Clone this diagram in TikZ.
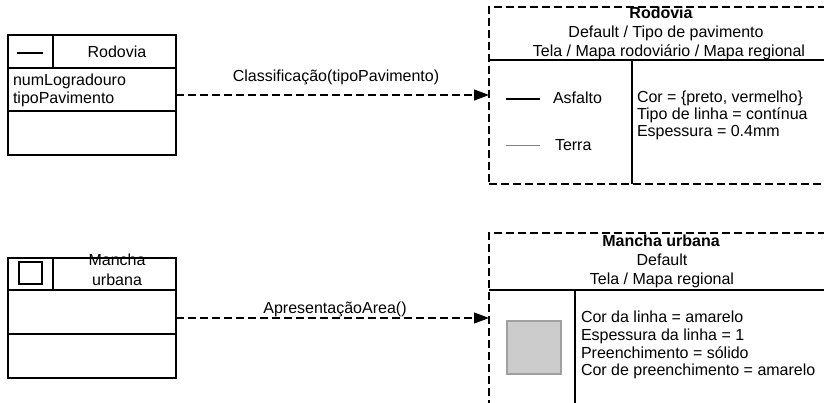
\documentclass[tikz,border=0pt]{standalone}
\usepackage{fontspec}
\setmainfont{Liberation Sans}
\usetikzlibrary{arrows.meta}
\begin{document}
\begin{tikzpicture}[x=1pt,y=-1pt,
  every node/.style={inner sep=0pt,outer sep=0pt,font=\fontsize{16}{18}\selectfont},
  classbox/.style={draw,line width=1.1pt,anchor=north west},
  viewbox/.style={draw,line width=1.1pt,dash pattern=on 8pt off 4pt,anchor=north west},
  divider/.style={line width=1.1pt},
  txt/.style={anchor=base west},
  ctxt/.style={anchor=base},
  flow/.style={line width=1.1pt,dash pattern=on 8pt off 4pt,-{Triangle[length=15pt,width=11pt]}},
  lbl/.style={anchor=base}]
\useasboundingbox (0,0) rectangle (824,402);
\fill[white] (0,0) rectangle (824,402);

% ---------- Rodovia class ----------
\node[classbox,minimum width=168pt,minimum height=120pt] (rodbox) at (8,35) {};
\draw[divider] (8,68) -- (176,68);
\draw[divider] (8,111) -- (176,111);
\draw[divider] (53,35) -- (53,68);
\draw[divider] (17,53) -- (43,53);
\node[ctxt] (rodname) at (117,57) {Rodovia};
\node[txt] (attr1) at (13,85) {numLogradouro};
\node[txt] (attr2) at (13,103.5) {tipoPavimento};

% ---------- Rodovia view ----------
\node[viewbox,minimum width=356pt,minimum height=177pt] (rodview) at (489,7) {};
\draw[divider] (489,60) -- (845,60);
\draw[divider] (632,60) -- (632,184);
\node[ctxt,font=\fontsize{16}{18}\selectfont\bfseries] (rvt1) at (661,18.5) {Rodovia};
\node[ctxt] (rvt2) at (666,37.5) {Default / Tipo de pavimento};
\node[ctxt] (rvt3) at (669,56.5) {Tela / Mapa rodoviário / Mapa regional};
\draw[line width=1.2pt] (506,99) -- (540,99);
\draw[line width=0.7pt,gray] (506,145) -- (540,145);
\node[txt] (asf) at (553,103.5) {Asfalto};
\node[txt] (ter) at (555,150) {Terra};
\node[txt] (rp1) at (637,102.5) {Cor = \{preto, vermelho\}};
\node[txt] (rp2) at (637,119.5) {Tipo de linha = contínua};
\node[txt] (rp3) at (637,136.5) {Espessura = 0.4mm};

% ---------- Mancha urbana class ----------
\node[classbox,minimum width=168pt,minimum height=120pt] (mubox) at (8,258) {};
\draw[divider] (8,290) -- (176,290);
\draw[divider] (8,334) -- (176,334);
\draw[divider] (53,258) -- (53,290);
\draw[line width=1.1pt] (19,262) rectangle (42,284);
\node[ctxt] (muname1) at (117,265) {Mancha};
\node[ctxt] (muname2) at (117,285.5) {urbana};

% ---------- Mancha urbana view ----------
\node[viewbox,minimum width=356pt,minimum height=177pt] (muview) at (489,233) {};
\draw[divider] (489,290) -- (845,290);
\draw[divider] (575,290) -- (575,410);
\node[ctxt,font=\fontsize{16}{18}\selectfont\bfseries] (mvt1) at (661,246.5) {Mancha urbana};
\node[ctxt] (mvt2) at (662,265.5) {Default};
\node[ctxt] (mvt3) at (662,284.5) {Tela / Mapa regional};
\draw[fill={rgb,255:red,204;green,204;blue,204},draw={rgb,255:red,160;green,160;blue,160},line width=1.1pt] (507,321) rectangle (561,374);
\node[txt] (mp1) at (581,322.5) {Cor da linha = amarelo};
\node[txt] (mp2) at (581,340.2) {Espessura da linha = 1};
\node[txt] (mp3) at (581,358) {Preenchimento = sólido};
\node[txt] (mp4) at (581,375.7) {Cor de preenchimento = amarelo};

% ---------- connectors ----------
\draw[flow] (rodbox.east) -- (rodbox.east -| rodview.west);
\node[lbl] (l1) at (336,81.5) {Classificação(tipoPavimento)};
\draw[flow] (mubox.east) -- (mubox.east -| muview.west);
\node[lbl] (l2) at (335,313.5) {ApresentaçãoArea()};
\end{tikzpicture}
\end{document}
